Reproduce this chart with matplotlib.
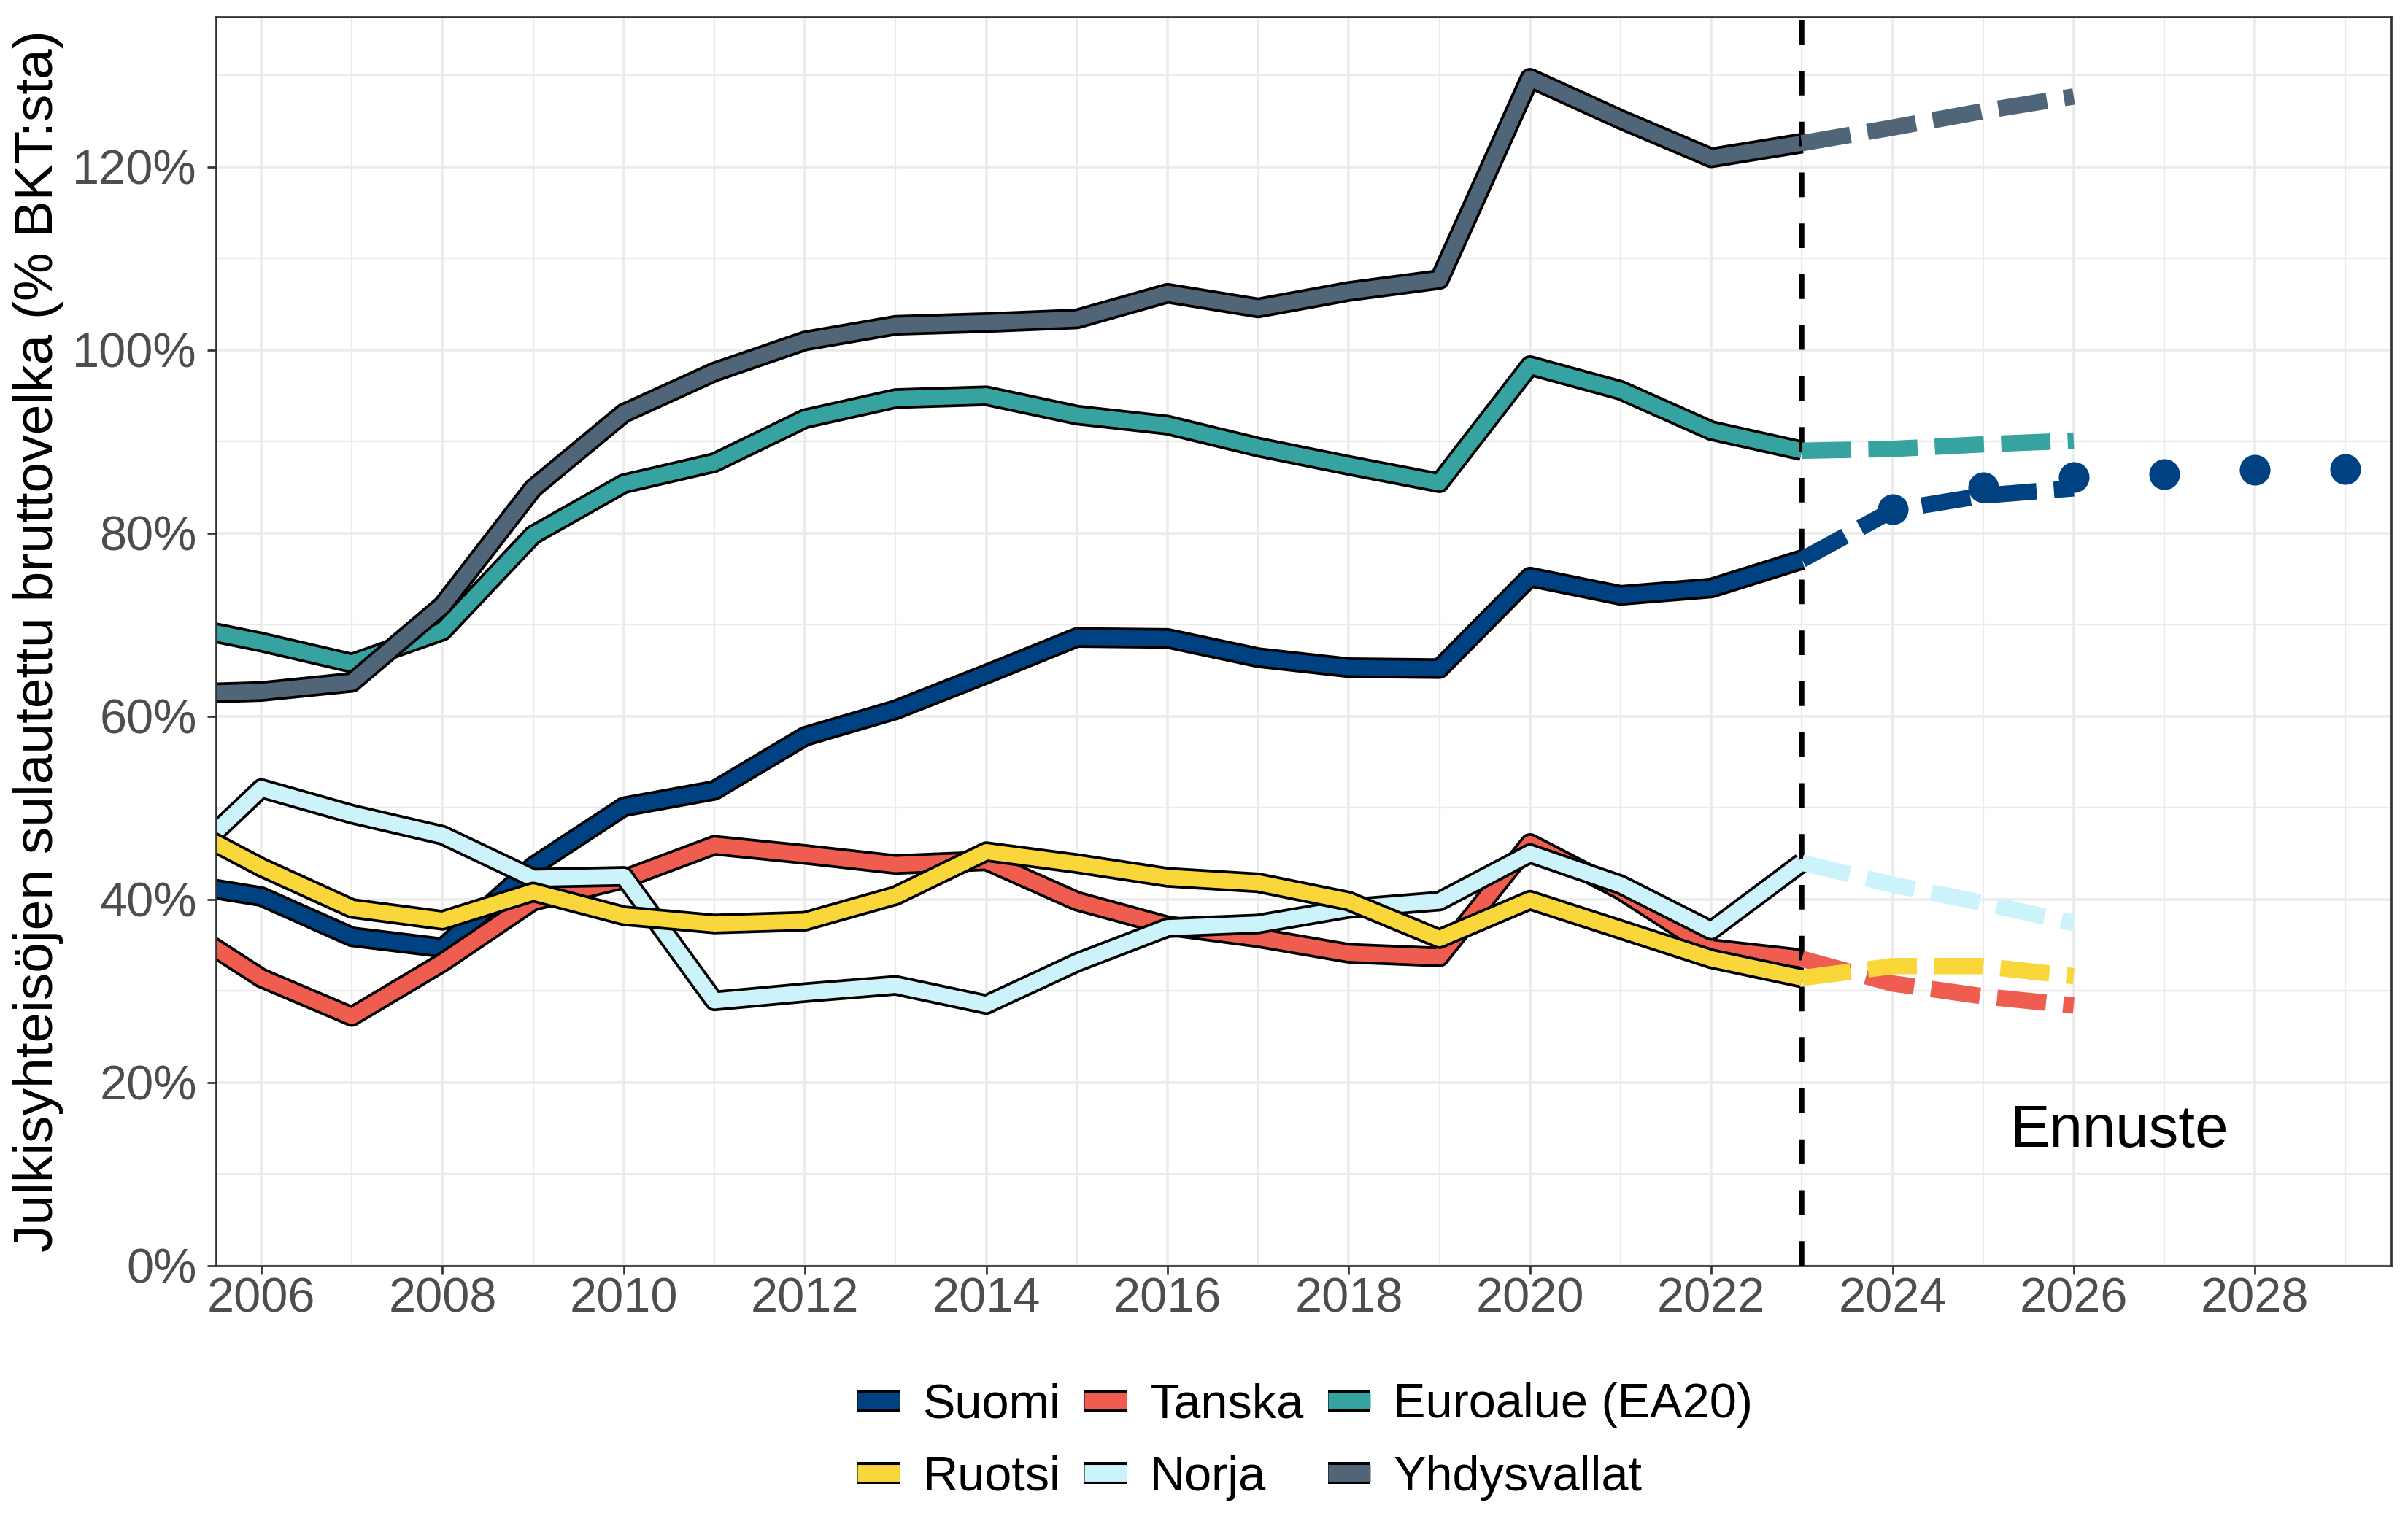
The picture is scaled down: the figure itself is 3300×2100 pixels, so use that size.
"""Julkisyhteisöjen bruttovelka: Suomi ja vertailumaat, toteuma + ennuste."""

import matplotlib
matplotlib.use('Agg')
import matplotlib.pyplot as plt
import matplotlib.patheffects as pe
from matplotlib.lines import Line2D
from matplotlib.legend_handler import HandlerTuple
from matplotlib.ticker import FuncFormatter, MultipleLocator

plt.rcParams['font.family'] = ['Liberation Sans', 'DejaVu Sans']

# ── Data (% BKT:sta) ─────────────────────────────────────────────────────────
years = list(range(2005, 2024))
suomi       = [41.9, 40.3, 35.9, 34.7, 43.6, 50.1, 51.9, 57.8, 60.7, 64.6,
               68.6, 68.5, 66.4, 65.3, 65.2, 75.2, 73.2, 74.0, 77.1]
tanska      = [37.8, 31.4, 27.2, 33.1, 39.8, 42.2, 45.9, 44.9, 43.8, 44.2,
               39.8, 37.1, 35.8, 34.1, 33.7, 46.1, 41.0, 34.6, 33.5]
norja       = [42.7, 52.1, 49.3, 47.0, 42.3, 42.5, 28.9, 29.8, 30.6, 28.5,
               33.1, 36.9, 37.3, 39.0, 39.8, 45.0, 41.6, 36.6, 44.0]
ruotsi      = [48.7, 43.5, 39.0, 37.7, 40.8, 38.2, 37.3, 37.6, 40.4, 45.2,
               43.9, 42.4, 41.8, 39.8, 35.7, 39.9, 36.7, 33.5, 31.4]
euroalue    = [70.1, 68.1, 65.8, 69.3, 79.8, 85.4, 87.7, 92.5, 94.7, 95.0,
               92.9, 91.8, 89.4, 87.4, 85.5, 98.3, 95.6, 91.2, 89.0]
yhdysvallat = [62.4, 62.7, 63.7, 72.1, 84.9, 93.1, 97.6, 101.0, 102.7, 103.0,
               103.4, 106.2, 104.6, 106.4, 107.7, 129.7, 125.2, 121.0, 122.6]

fc_years = [2023, 2024, 2025, 2026]
suomi_fc       = [77.1, 82.5, 84.1, 84.9]
tanska_fc      = [33.5, 30.8, 29.4, 28.4]
norja_fc       = [44.0, 41.6, 39.6, 37.4]
ruotsi_fc      = [31.4, 32.7, 32.7, 31.6]
euroalue_fc    = [89.0, 89.2, 89.7, 90.1]
yhdysvallat_fc = [122.6, 124.3, 126.1, 127.7]

# Suomen pidemmän aikavälin ennuste (pisteet)
dot_years = [2024, 2025, 2026, 2027, 2028, 2029]
suomi_dots = [82.6, 85.0, 86.1, 86.4, 86.9, 87.0]

names  = ['Suomi', 'Tanska', 'Norja', 'Ruotsi', 'Euroalue (EA20)', 'Yhdysvallat']
colors = ['#004182', '#EF5D50', '#CCF3FA', '#F9D73B', '#37A3A1', '#506578']
hist   = [suomi, tanska, norja, ruotsi, euroalue, yhdysvallat]
fcst   = [suomi_fc, tanska_fc, norja_fc, ruotsi_fc, euroalue_fc, yhdysvallat_fc]

fig = plt.figure(figsize=(11, 7), dpi=300)
ax = fig.add_axes([0.0897, 0.1740, 0.9032, 0.8150])

# ── Historical lines with black outline ──────────────────────────────────────
for vals, col in zip(hist, colors):
    ax.plot(years, vals, color=col, lw=5.0, solid_joinstyle='round',
            solid_capstyle='butt', zorder=2,
            path_effects=[pe.Stroke(linewidth=6.8, foreground='black'), pe.Normal()])

ax.axvline(2023, color='black', lw=1.8, ls=(0, (4.5, 4.8)), zorder=3)

# ── Forecasts ─────────────────────────────────────────────────────────────────
for vals, col in zip(fcst, colors):
    ax.plot(fc_years, vals, color=col, lw=5.4, ls=(0, (3.0, 1.05)),
            dash_capstyle='butt', zorder=4)

ax.plot(dot_years, suomi_dots, ls='none', marker='o', ms=9.1,
        color=colors[0], mec=colors[0], zorder=5)

ax.text(2026.5, 14.66, 'Ennuste', fontsize=19.6, ha='center', va='center')

# ── Axes styling (ggplot theme_bw look) ──────────────────────────────────────
ax.set_xlim(2005.5, 2029.5)
ax.set_ylim(0, 136.4)
ax.xaxis.set_major_locator(MultipleLocator(2))
ax.xaxis.set_minor_locator(MultipleLocator(1))
ax.yaxis.set_major_locator(MultipleLocator(20))
ax.yaxis.set_minor_locator(MultipleLocator(10))
ax.yaxis.set_major_formatter(FuncFormatter(lambda v, p: f'{v:.0f}%'))
ax.set_xticks(range(2006, 2029, 2))

ax.set_axisbelow(True)
ax.grid(True, which='major', color='#EBEBEB', lw=0.85)
ax.grid(True, which='minor', color='#EBEBEB', lw=0.55)
for s in ax.spines.values():
    s.set_color('#333333')
    s.set_linewidth(0.65)
ax.tick_params(which='major', length=2.8, width=0.65, color='#333333',
               labelsize=16, labelcolor='#4D4D4D')
ax.tick_params(axis='x', which='major', pad=1.0)
ax.tick_params(axis='y', which='major', pad=3.5)
ax.tick_params(which='minor', length=0)

fig.text(0.0158, 0.5815, 'Julkisyhteisöjen sulautettu bruttovelka (% BKT:sta)',
         rotation=90, ha='center', va='center', fontsize=18)

# ── Legend: coloured key with black top/bottom edges ─────────────────────────
order = [0, 3, 1, 2, 4, 5]  # column-wise: Suomi, Ruotsi | Tanska, Norja | EA20, USA
handles = []
labels = []
for i in order:
    h = (Line2D([], [], color='black', lw=7.2, solid_capstyle='butt'),
         Line2D([], [], color=colors[i], lw=5.5, solid_capstyle='butt'))
    handles.append(h)
    labels.append(names[i])

fig.legend(handles, labels, ncol=3, loc='center', bbox_to_anchor=(0.542, 0.0590),
           frameon=False, fontsize=16, handlelength=0.87, handletextpad=0.47,
           columnspacing=0.5, labelspacing=0.56, borderpad=0,
           handler_map={tuple: HandlerTuple(ndivide=1, pad=0)})

fig.savefig('out.png', dpi=300)
print('Saved out.png')
